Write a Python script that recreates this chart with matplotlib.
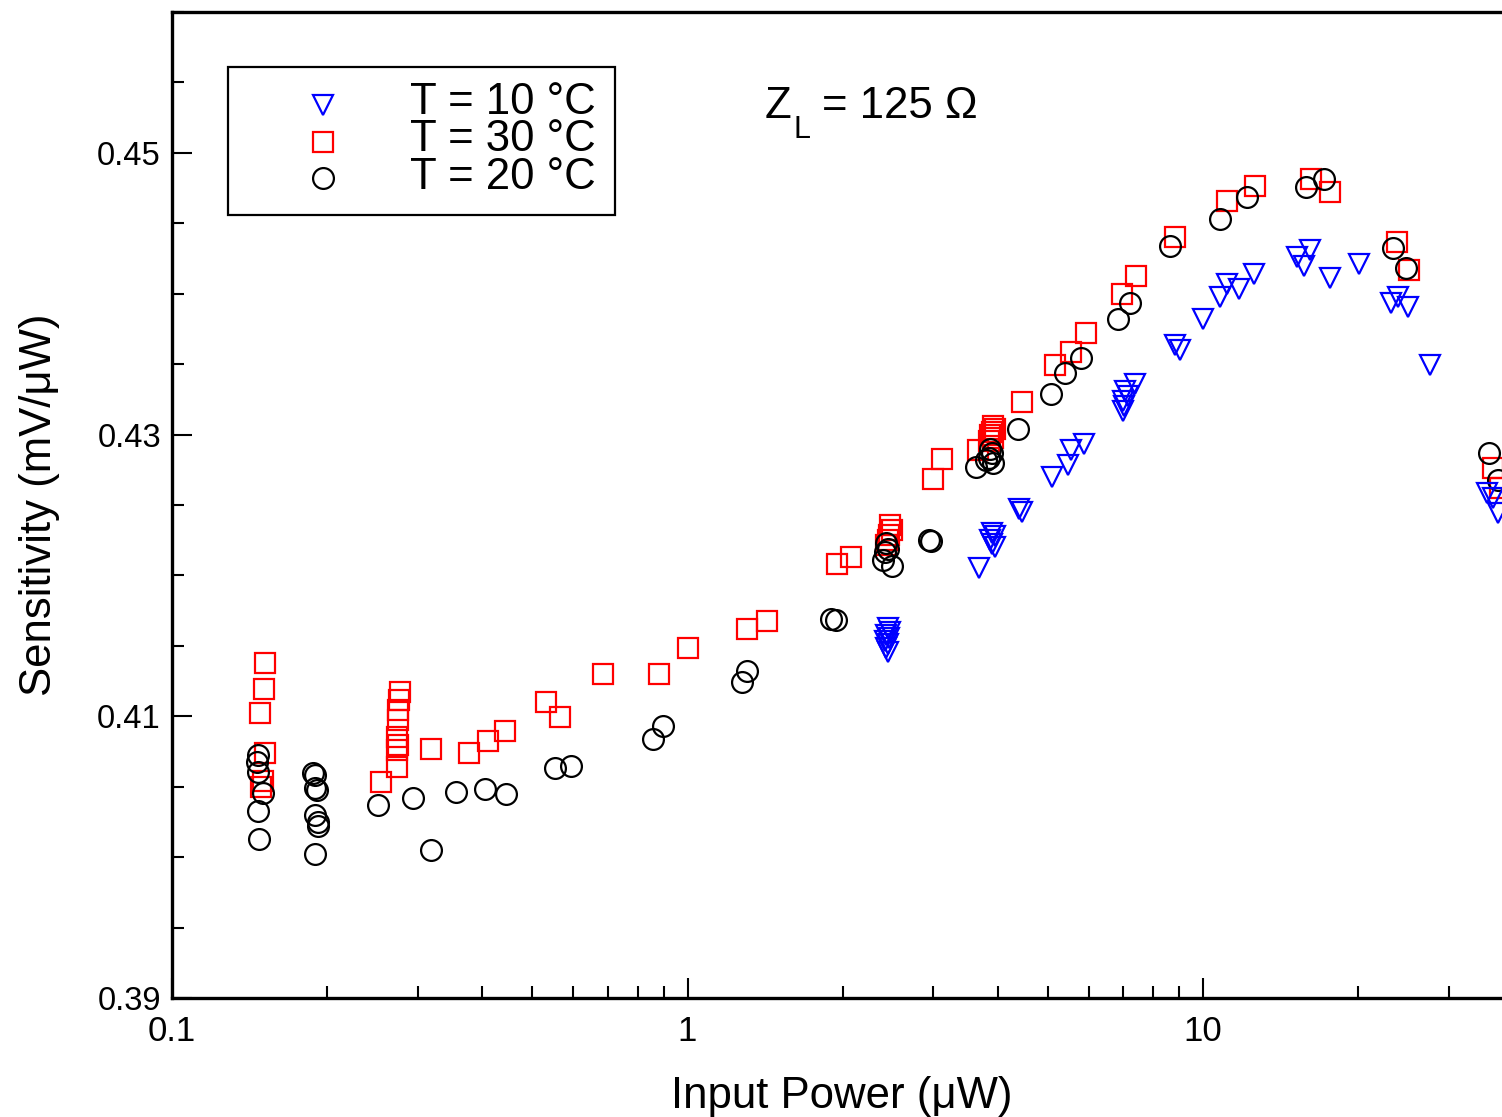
# Sensitivity vs input power for three temperatures (Z_L = 125 Ohm)
import matplotlib
matplotlib.use("Agg")
import matplotlib.pyplot as plt
from matplotlib.ticker import FixedLocator, MultipleLocator, LogLocator, NullFormatter, FixedFormatter
from matplotlib.patches import Rectangle

plt.rcParams["font.family"] = ["Liberation Sans", "DejaVu Sans"]

# T = 10 C
p_10 = [2.45, 2.47, 2.43, 2.46, 2.42, 2.45, 2.43, 2.45,
        3.68, 3.90, 3.95, 3.86, 3.90, 3.95, 4.40, 4.45,
        5.09, 5.47, 5.55, 5.88, 7.38, 7.06, 7.14, 6.98, 7.02, 7.0,
        8.83, 9.03, 10.0, 10.77, 11.13, 11.74, 12.56,
        15.2, 15.7, 16.1, 17.6, 20.1, 23.2, 23.9, 25.0, 27.6,
        35.5, 36.6, 37.4]
s_10 = [0.4163, 0.4160, 0.41574, 0.41553, 0.41532, 0.4151, 0.41482, 0.41454,
        0.4205, 0.42298, 0.42277, 0.42248, 0.4222, 0.42199, 0.42475, 0.42447,
        0.42702, 0.42787, 0.42887, 0.42936, 0.43362, 0.43312, 0.43277, 0.43241, 0.43206, 0.4317,
        0.43638, 0.43603, 0.43823, 0.43979, 0.44071, 0.44035, 0.44142,
        0.44262, 0.44199, 0.44312, 0.44113, 0.44213, 0.43936, 0.43979, 0.43908, 0.43496,
        0.42582, 0.42553, 0.4244]

# T = 30 C
p_30 = [0.1515, 0.151, 0.148, 0.1515, 0.150, 0.149,
        0.277, 0.276, 0.275, 0.274, 0.273, 0.275, 0.273, 0.273,
        0.254, 0.318, 0.377, 0.410, 0.443, 0.531, 0.566, 0.686, 0.880,
        1.0, 1.305, 1.426, 1.95, 2.075,
        2.47, 2.49, 2.46, 2.45, 2.43,
        2.995, 3.117, 3.66, 3.92, 3.95, 3.90, 3.86, 3.92, 3.84,
        4.45, 5.16, 5.55, 5.93, 6.96, 7.41, 8.83, 11.13, 12.6,
        16.2, 17.6, 23.8, 25.1, 36.6, 37.7]
s_30 = [0.41376, 0.41191, 0.41021, 0.40738, 0.4054, 0.40497,
        0.4117, 0.41113, 0.41043, 0.40972, 0.40851, 0.40794, 0.40759, 0.40638,
        0.40532, 0.40766, 0.40738, 0.40823, 0.40894, 0.4110, 0.40993, 0.4130, 0.4130,
        0.41482, 0.41617, 0.41674, 0.42078, 0.42128,
        0.42355, 0.42319, 0.42284, 0.42248, 0.42213,
        0.42688, 0.4283, 0.42887, 0.43064, 0.43043, 0.43021, 0.43, 0.42979, 0.42957,
        0.43234, 0.43496, 0.43589, 0.43723, 0.4400, 0.44128, 0.44404, 0.4466, 0.44766,
        0.44816, 0.44723, 0.44369, 0.4417, 0.42766, 0.42624]

# T = 20 C
p_20 = [0.1468, 0.146, 0.1468, 0.150, 0.1468, 0.1475,
        0.1877, 0.1894, 0.1894, 0.191, 0.1894, 0.192, 0.192, 0.1894,
        0.251, 0.2935, 0.318, 0.3555, 0.405, 0.4445, 0.553, 0.594,
        0.857, 0.897, 1.276, 1.305, 1.898, 1.94,
        2.43, 2.45, 2.42, 2.40, 2.49, 2.94, 2.97,
        3.63, 3.86, 3.90, 3.84, 3.92, 3.80, 4.38,
        5.07, 5.40, 5.80, 6.84, 7.22, 8.63, 10.8, 12.17,
        15.84, 17.17, 23.4, 24.8, 35.9, 37.4]
s_20 = [0.40723, 0.40674, 0.40603, 0.40454, 0.40326, 0.40128,
        0.40596, 0.40582, 0.40489, 0.40475, 0.40298, 0.40248, 0.4022, 0.40021,
        0.40369, 0.40418, 0.4005, 0.40461, 0.40482, 0.40447, 0.40631, 0.40645,
        0.40837, 0.40929, 0.41241, 0.41319, 0.41688, 0.41681,
        0.42227, 0.42191, 0.42163, 0.42106, 0.42064, 0.42248, 0.42241,
        0.42773, 0.42901, 0.42872, 0.42837, 0.42801, 0.42816, 0.43043,
        0.43291, 0.4344, 0.43546, 0.43823, 0.43936, 0.4434, 0.44532, 0.44688,
        0.44759, 0.44816, 0.44326, 0.44184, 0.42872, 0.42674]

x_ticks = [0.1, 1, 10]
x_tick_labels = ["0.1", "1", "10"]
y_ticks = [0.39, 0.41, 0.43, 0.45]
y_tick_labels = ["0.39", "0.41", "0.43", "0.45"]

BLUE = "#0000ff"
RED = "#ff0000"
MS = 15
MEW = 1.6

fig = plt.figure(figsize=(15.02, 11.17), dpi=100)
# the axes run past the right edge of the figure, as in the original
ax = fig.add_axes([172 / 1502, 119 / 1117, 1546.5 / 1502, 986 / 1117])

ax.plot(p_30, s_30, ls="none", marker="s", ms=MS, mfc="none", mec=RED, mew=MEW)
ax.plot(p_20, s_20, ls="none", marker="o", ms=MS, mfc="none", mec="black", mew=MEW)
ax.plot(p_10, s_10, ls="none", marker="v", ms=MS, mfc="none", mec=BLUE, mew=MEW)

ax.set_xscale("log")
ax.set_xlim(0.1, 100)
ax.set_ylim(0.39, 0.46)

ax.xaxis.set_major_locator(FixedLocator(x_ticks))
ax.xaxis.set_major_formatter(FixedFormatter(x_tick_labels))
ax.xaxis.set_minor_locator(LogLocator(base=10, subs=range(2, 10)))
ax.xaxis.set_minor_formatter(NullFormatter())
ax.yaxis.set_major_locator(FixedLocator(y_ticks))
ax.yaxis.set_major_formatter(FixedFormatter(y_tick_labels))
ax.yaxis.set_minor_locator(MultipleLocator(0.005))

ax.tick_params(which="both", direction="in", top=False, right=False, width=1.5)
ax.tick_params(which="major", length=14.5)
ax.tick_params(which="minor", length=8.5)
ax.tick_params(axis="y", labelsize=23.5, pad=8)
ax.tick_params(axis="x", labelsize=25, pad=12)
for sp in ax.spines.values():
    sp.set_linewidth(2.4)

ax.set_xlabel("Input Power (μW)", fontsize=31.5)
ax.xaxis.set_label_coords((842 - 172) / 1546.5, -0.079)
ax.set_ylabel("Sensitivity (mV/μW)", fontsize=31.5, labelpad=27)

# legend drawn by hand: tight rows like the original
fig.add_artist(Rectangle((228 / 1502, 1 - 215 / 1117), 387 / 1502, 148 / 1117,
                         transform=fig.transFigure, fill=False, ec="black", lw=1.6))
legend_rows = [("v", BLUE, "T = 10 °C", 105, 114),
               ("s", RED, "T = 30 °C", 142, 151),
               ("o", "black", "T = 20 °C", 178, 189)]
for mk, col, label, y_mk, y_txt in legend_rows:
    ax.plot([323 / 1502], [1 - y_mk / 1117], transform=fig.transFigure, clip_on=False,
            ls="none", marker=mk, ms=MS, mfc="none", mec=col, mew=MEW)
    fig.text(410 / 1502, 1 - y_txt / 1117, label, fontsize=31.5, va="baseline")

# Z_L = 125 Ohm annotation
fig.text(765 / 1502, 1 - 118 / 1117, "Z", fontsize=31.5, va="baseline")
fig.text(793 / 1502, 1 - 138 / 1117, "L", fontsize=22, va="baseline")
fig.text(822 / 1502, 1 - 118 / 1117, "= 125 Ω", fontsize=31.5, va="baseline")

fig.savefig("out.png", dpi=100)
